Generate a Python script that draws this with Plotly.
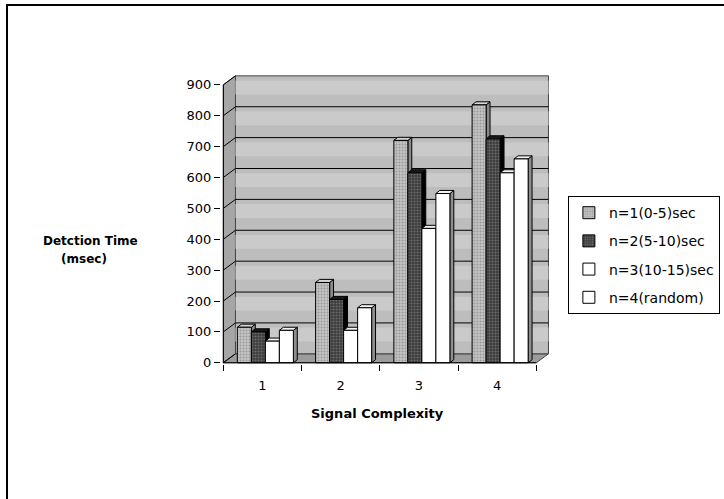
import plotly.graph_objects as go

# Detection time (msec) per signal complexity level, one list per series
categories = ["1", "2", "3", "4"]
series_names = ["n=1(0-5)sec", "n=2(5-10)sec", "n=3(10-15)sec", "n=4(random)"]
n1_values = [115, 260, 720, 835]
n2_values = [100, 205, 615, 725]
n3_values = [70, 105, 435, 615]
n4_values = [105, 178, 548, 660]
y_ticks = [0, 100, 200, 300, 400, 500, 600, 700, 800, 900]

all_values = [n1_values, n2_values, n3_values, n4_values]

# Styling of each series: front colour, pattern, side colour, top colour
front_colors = ["#c4c4c4", "#3c3c3c", "#ffffff", "#ffffff"]
pattern_fg = ["#6e6e6e", "#9a9a9a", None, None]
side_colors = ["#8a8a8a", "#000000", "#8e8e8e", "#8e8e8e"]
top_colors = ["#d6d6d6", "#1a1a1a", "#f4f4f4", "#f4f4f4"]

# Pseudo-3D geometry (in axis units)
WALL_DX, WALL_DY = 0.155, 29      # depth offset of the back wall
BAR_DX, BAR_DY = 0.05, 10         # depth of each column
BAR_W = 0.179                     # column width
GROUP_SHIFT = 0.037
Y_MAX = 900

x_pos = list(range(1, len(categories) + 1))
x_lo, x_hi = 0.5, len(categories) + 0.5

fig = go.Figure()
shapes = []


def poly(points, fill, line_color="black", width=1, layer="below"):
    path = "M " + " L ".join(f"{px},{py}" for px, py in points) + " Z"
    return dict(type="path", xref="x", yref="y", path=path, fillcolor=fill,
                line=dict(color=line_color, width=width), layer=layer)


# Chart walls: left side wall, floor, back wall
shapes.append(poly([(x_lo, 0), (x_lo, Y_MAX), (x_lo + WALL_DX, Y_MAX + WALL_DY),
                    (x_lo + WALL_DX, WALL_DY)], "#a6a6a6", "#444"))
shapes.append(poly([(x_lo, 0), (x_hi, 0), (x_hi + WALL_DX, WALL_DY),
                    (x_lo + WALL_DX, WALL_DY)], "#9c9c9c", "#444"))
shapes.append(poly([(x_lo + WALL_DX, WALL_DY), (x_hi + WALL_DX, WALL_DY),
                    (x_hi + WALL_DX, Y_MAX + WALL_DY), (x_lo + WALL_DX, Y_MAX + WALL_DY)],
                   "#bdbdbd", "#444"))

# Softer light bands on the back wall between gridlines
for v in y_ticks[:-1]:
    shapes.append(dict(type="rect", xref="x", yref="y", layer="below",
                       x0=x_lo + WALL_DX, x1=x_hi + WALL_DX,
                       y0=v + WALL_DY + 40, y1=v + WALL_DY + 85,
                       fillcolor="#cacaca", line=dict(width=0)))

# Gridlines on the back wall and their continuation on the side wall
for v in y_ticks:
    if 0 < v < Y_MAX:
        shapes.append(dict(type="line", xref="x", yref="y", layer="below",
                           x0=x_lo + WALL_DX, x1=x_hi + WALL_DX,
                           y0=v + WALL_DY, y1=v + WALL_DY,
                           line=dict(color="black", width=1)))
    shapes.append(dict(type="line", xref="x", yref="y", layer="below",
                       x0=x_lo, x1=x_lo + WALL_DX, y0=v, y1=v + WALL_DY,
                       line=dict(color="black", width=1)))

# Column side and top faces, drawn beneath the front faces
n_series = len(all_values)
offsets = [GROUP_SHIFT - n_series * BAR_W / 2 + (i + 0.5) * BAR_W for i in range(n_series)]
for ci, xc in enumerate(x_pos):
    for si in range(n_series):
        v = all_values[si][ci]
        left = xc + offsets[si] - BAR_W / 2
        right = left + BAR_W
        shapes.append(poly([(right, 0), (right + BAR_DX, BAR_DY),
                            (right + BAR_DX, v + BAR_DY), (right, v)], side_colors[si]))
        shapes.append(poly([(left, v), (right, v), (right + BAR_DX, v + BAR_DY),
                            (left + BAR_DX, v + BAR_DY)], top_colors[si]))

# Column front faces
for si in range(n_series):
    marker = dict(color=front_colors[si], line=dict(color="black", width=1))
    if pattern_fg[si]:
        marker["pattern"] = dict(shape=".", fgcolor=pattern_fg[si], size=3,
                                 solidity=0.35, fillmode="overlay")
    fig.add_trace(go.Bar(
        x=[xc + offsets[si] for xc in x_pos], y=all_values[si], width=BAR_W,
        name=series_names[si], marker=marker, legendgroup=f"g{si}",
    ))

# Axis lines
shapes.append(dict(type="line", xref="x", yref="y", x0=x_lo, x1=x_lo, y0=0, y1=Y_MAX,
                   line=dict(color="black", width=1)))
shapes.append(dict(type="line", xref="x", yref="y", x0=x_lo, x1=x_hi, y0=0, y1=0,
                   line=dict(color="black", width=1)))

# Outer chart frame
shapes.append(dict(type="rect", xref="paper", yref="paper", x0=-0.6465, x1=2, y0=-1, y1=1.238,
                   line=dict(color="black", width=2), fillcolor="rgba(0,0,0,0)"))

fig.update_layout(
    width=724, height=499,
    margin=dict(l=221, r=172, t=74, b=135, autoexpand=False),
    paper_bgcolor="white", plot_bgcolor="white",
    barmode="overlay", showlegend=True,
    shapes=shapes,
    font=dict(family="DejaVu Sans", size=13, color="black"),
    xaxis=dict(range=[0.47, 4.7], tickvals=x_pos, ticktext=categories,
               ticks="", showgrid=False, zeroline=False, showline=False,
               ticklabelstandoff=12,
               minor=dict(tickmode="linear", tick0=0.5, dtick=1, ticks="outside",
                          ticklen=6, tickcolor="black", showgrid=False)),
    yaxis=dict(range=[-4, 935], tickvals=y_ticks, ticks="outside", ticklen=6,
               tickcolor="black", showgrid=False, zeroline=False, showline=False),
    legend=dict(x=1.048, y=0.579, xanchor="left", yanchor="top",
                bordercolor="black", borderwidth=1, bgcolor="white",
                tracegroupgap=7, entrywidth=150, font=dict(size=14)),
    annotations=[
        dict(text="<b>Detction Time</b>", xref="paper", yref="paper", x=-0.395, y=0.424,
             xanchor="center", yanchor="middle", showarrow=False, font=dict(size=12)),
        dict(text="<b>(msec)</b>", xref="paper", yref="paper", x=-0.413, y=0.362,
             xanchor="center", yanchor="middle", showarrow=False, font=dict(size=12)),
        dict(text="<b>Signal Complexity</b>", xref="paper", yref="paper", x=0.474, y=-0.169,
             xanchor="center", yanchor="middle", showarrow=False, font=dict(size=13)),
    ],
)

fig.write_html("out.html")
